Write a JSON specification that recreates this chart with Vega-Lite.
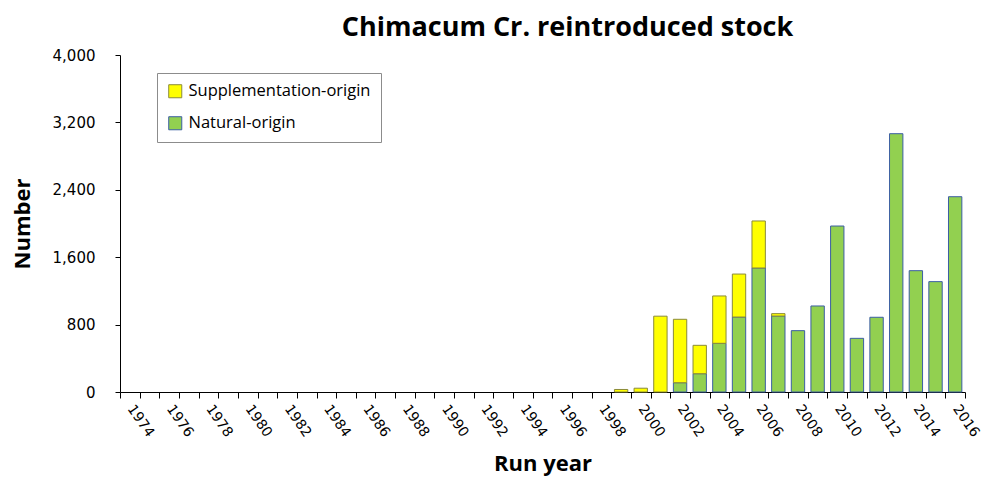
{
  "$schema": "https://vega.github.io/schema/vega-lite/v6.json",
  "width": 845,
  "height": 337,
  "autosize": "none",
  "padding": {"left": 120, "top": 55, "right": 18, "bottom": 88},
  "background": "white",
  "title": {
    "text": "Chimacum Cr. reintroduced stock",
    "font": "Open Sans",
    "fontSize": 27,
    "fontWeight": "bold",
    "color": "black",
    "anchor": "middle",
    "dx": 25,
    "offset": 6
  },
  "data": {
    "values": [
      {"year": 1999, "origin": "Supplementation-origin", "number": 30},
      {"year": 2000, "origin": "Supplementation-origin", "number": 45},
      {"year": 2001, "origin": "Supplementation-origin", "number": 900},
      {"year": 2002, "origin": "Natural-origin", "number": 110},
      {"year": 2002, "origin": "Supplementation-origin", "number": 753},
      {"year": 2003, "origin": "Natural-origin", "number": 217},
      {"year": 2003, "origin": "Supplementation-origin", "number": 337},
      {"year": 2004, "origin": "Natural-origin", "number": 578},
      {"year": 2004, "origin": "Supplementation-origin", "number": 562},
      {"year": 2005, "origin": "Natural-origin", "number": 890},
      {"year": 2005, "origin": "Supplementation-origin", "number": 510},
      {"year": 2006, "origin": "Natural-origin", "number": 1472},
      {"year": 2006, "origin": "Supplementation-origin", "number": 558},
      {"year": 2007, "origin": "Natural-origin", "number": 902},
      {"year": 2007, "origin": "Supplementation-origin", "number": 28},
      {"year": 2008, "origin": "Natural-origin", "number": 728},
      {"year": 2009, "origin": "Natural-origin", "number": 1021},
      {"year": 2010, "origin": "Natural-origin", "number": 1970},
      {"year": 2011, "origin": "Natural-origin", "number": 637},
      {"year": 2012, "origin": "Natural-origin", "number": 887},
      {"year": 2013, "origin": "Natural-origin", "number": 3066},
      {"year": 2014, "origin": "Natural-origin", "number": 1440},
      {"year": 2015, "origin": "Natural-origin", "number": 1310},
      {"year": 2016, "origin": "Natural-origin", "number": 2318}
    ]
  },
  "mark": {"type": "bar", "width": {"band": 0.68}, "strokeWidth": 1},
  "encoding": {
    "x": {
      "field": "year",
      "type": "ordinal",
      "scale": {
        "domain": [1974,1975,1976,1977,1978,1979,1980,1981,1982,1983,1984,1985,1986,1987,1988,1989,1990,1991,1992,1993,1994,1995,1996,1997,1998,1999,2000,2001,2002,2003,2004,2005,2006,2007,2008,2009,2010,2011,2012,2013,2014,2015,2016],
        "paddingInner": 0,
        "paddingOuter": 0
      },
      "axis": {
        "title": "Run year",
        "titleFont": "Open Sans",
        "titleFontSize": 22,
        "titleFontWeight": "bold",
        "titleColor": "black",
        "titlePadding": 14,
        "labelFont": "DejaVu Sans",
        "labelFontSize": 14,
        "labelColor": "black",
        "labelAngle": 55,
        "labelAlign": "left",
        "labelBaseline": "middle",
        "labelPadding": 8,
        "labelExpr": "(datum.value - 1974) % 2 == 0 ? datum.label : ''",
        "tickBand": "extent",
        "tickSize": 6,
        "tickColor": "black",
        "domainColor": "black",
        "grid": false
      }
    },
    "y": {
      "field": "number",
      "type": "quantitative",
      "aggregate": "sum",
      "stack": "zero",
      "scale": {"domain": [0, 4000], "nice": false},
      "axis": {
        "title": "Number",
        "titleFont": "Open Sans",
        "titleFontSize": 22,
        "titleFontWeight": "bold",
        "titleColor": "black",
        "titlePadding": 18,
        "values": [0, 800, 1600, 2400, 3200, 4000],
        "format": ",.0f",
        "labelFont": "DejaVu Sans",
        "labelFontSize": 15,
        "labelColor": "black",
        "labelPadding": 20,
        "tickSize": 5,
        "tickColor": "black",
        "domainColor": "black",
        "grid": false
      }
    },
    "fill": {
      "field": "origin",
      "type": "nominal",
      "scale": {
        "domain": ["Supplementation-origin", "Natural-origin"],
        "range": ["#FFFF00", "#92D050"]
      },
      "legend": {
        "title": null,
        "orient": "none",
        "legendX": 37,
        "legendY": 18,
        "strokeColor": "#8c8c8c",
        "fillColor": "white",
        "padding": 10,
        "symbolType": "square",
        "symbolSize": 170,
        "symbolStrokeWidth": 1,
        "labelFont": "Open Sans",
        "labelFontSize": 16.5,
        "labelColor": "black",
        "labelOffset": 5,
        "labelLimit": 400,
        "rowPadding": 14
      }
    },
    "stroke": {
      "field": "origin",
      "type": "nominal",
      "scale": {
        "domain": ["Supplementation-origin", "Natural-origin"],
        "range": ["#8a8a3a", "#3b5ea3"]
      },
      "legend": {
        "title": null,
        "orient": "none",
        "legendX": 37,
        "legendY": 18,
        "strokeColor": "#8c8c8c",
        "fillColor": "white",
        "padding": 10,
        "symbolType": "square",
        "symbolSize": 170,
        "symbolStrokeWidth": 1,
        "labelFont": "Open Sans",
        "labelFontSize": 16.5,
        "labelColor": "black",
        "labelOffset": 5,
        "labelLimit": 400,
        "rowPadding": 14
      }
    },
    "order": {
      "field": "origin",
      "sort": "ascending"
    }
  },
  "config": {
    "view": {"stroke": null}
  }
}
